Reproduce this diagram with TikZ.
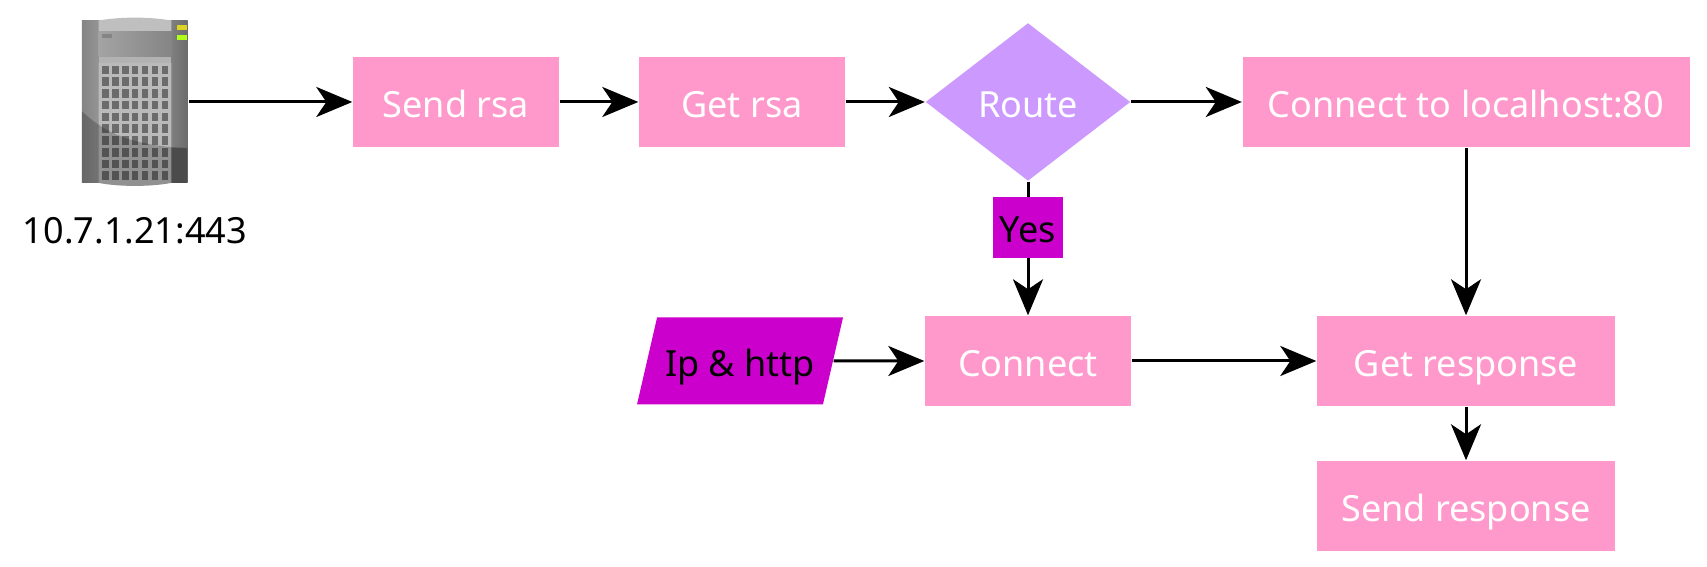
\documentclass[tikz,border=0pt]{standalone}
\usepackage{fontspec}
\setmainfont{Noto Sans}
\usepackage{xcolor}
\usetikzlibrary{arrows.meta,shapes.geometric}

\definecolor{boxpink}{HTML}{FF99CC}
\definecolor{routepurple}{HTML}{CC99FF}
\definecolor{inputmagenta}{HTML}{CC00CC}

\tikzset{
    labeltext/.style={inner sep=0pt, text height=0.31cm, text depth=0cm, font=\fontsize{10.25}{12}\selectfont},
    flowbox/.style={labeltext, rectangle, fill=boxpink, text=white},
    routebox/.style={labeltext, diamond, fill=routepurple, text=white, minimum width=2.05cm, minimum height=1.58cm},
    inputbox/.style={labeltext, trapezium, trapezium left angle=77, trapezium right angle=103, fill=inputmagenta, text=black, inner ysep=0.28cm, trapezium stretches body=true, minimum width=2.06cm},
    yesbox/.style={labeltext, rectangle, fill=inputmagenta, text=black, minimum width=0.70cm, minimum height=0.61cm},
    flow/.style={line width=0.03cm, -{Stealth[length=0.36cm,width=0.30cm,inset=0.10cm]}},
}

\begin{document}
\begin{tikzpicture}
\useasboundingbox (0,0) rectangle (17.07,5.67);

% Server
\node[rectangle, fill=gray!70, inner sep=0pt, minimum width=1.06cm, minimum height=1.63cm] (server) at (1.35,4.65) {};
\begin{scope}[shift={(0.6,5.67)}, x=0.00333cm, y=-0.00333cm]
\shade[left color=black!48, right color=black!42] (66,62) rectangle (116,550);
\shade[left color=black!50, right color=black!58] (335,62) rectangle (383,550);
\fill[black!62] (335,445) rectangle (383,550);
\fill[black!25] (116,62) .. controls (180,50) and (270,50) .. (335,62) -- (335,95) -- (116,95) -- cycle;
\shade[left color=black!36, right color=black!48] (116,95) rectangle (335,170);
\fill[black!30] (116,170) rectangle (335,188);
\fill[black!27] (116,188) -- (335,188) -- (335,550) .. controls (270,562) and (180,562) .. (116,550) -- cycle;
\fill[black!48] (126,103) rectangle (156,113);
\foreach \col in {0,...,6}
    \foreach \row in {0,...,9}
        \fill[black!58] (126+30*\col,197+35.4*\row) rectangle +(20,26);
% Shadow
\fill[black, fill opacity=0.22] (66,335) .. controls (120,385) and (190,430) .. (335,442) -- (383,445) -- (383,550) -- (335,550) .. controls (270,562) and (180,562) .. (116,550) -- (66,550) -- cycle;
% Lights
\fill[yellow!85!black] (352,75) rectangle (382,90);
\fill[green!35!yellow!90] (352,104) rectangle (382,119);
\end{scope}
\node[labeltext] (address) at (1.35,3.385) {10.7.1.21:443};

% Top row
\node[flowbox, minimum width=2.06cm, minimum height=0.90cm] (sendrsa) at (4.56,4.65) {Send rsa};
\node[flowbox, minimum width=2.06cm, minimum height=0.90cm] (getrsa) at (7.42,4.65) {Get rsa};
\node[routebox] (route) at (10.28,4.65) {Route};
\node[flowbox, minimum width=4.47cm, minimum height=0.90cm] (localhost) at (14.66,4.65) {Connect to localhost:80};

% Lower rows
\node[inputbox] (iphttp) at (7.40,2.06) {Ip \& http};
\node[flowbox, minimum width=2.06cm, minimum height=0.90cm] (connect) at (10.28,2.06) {Connect};
\node[flowbox, minimum width=2.98cm, minimum height=0.90cm] (getresponse) at (14.66,2.06) {Get response};
\node[flowbox, minimum width=2.98cm, minimum height=0.90cm] (sendresponse) at (14.66,0.61) {Send response};

% Connectors
\draw[flow] (server.east) -- (sendrsa.west);
\draw[flow] (sendrsa) -- (getrsa);
\draw[flow] (getrsa) -- (route.west);
\draw[flow] (route.east) -- (localhost.west);
\draw[flow] (route.south) -- node[yesbox, pos=0.34] (yes) {Yes} (connect.north);
\draw[flow] (iphttp.east) -- (connect.west);
\draw[flow] (connect) -- (getresponse);
\draw[flow] (localhost) -- (getresponse);
\draw[flow] (getresponse) -- (sendresponse);
\end{tikzpicture}
\end{document}
